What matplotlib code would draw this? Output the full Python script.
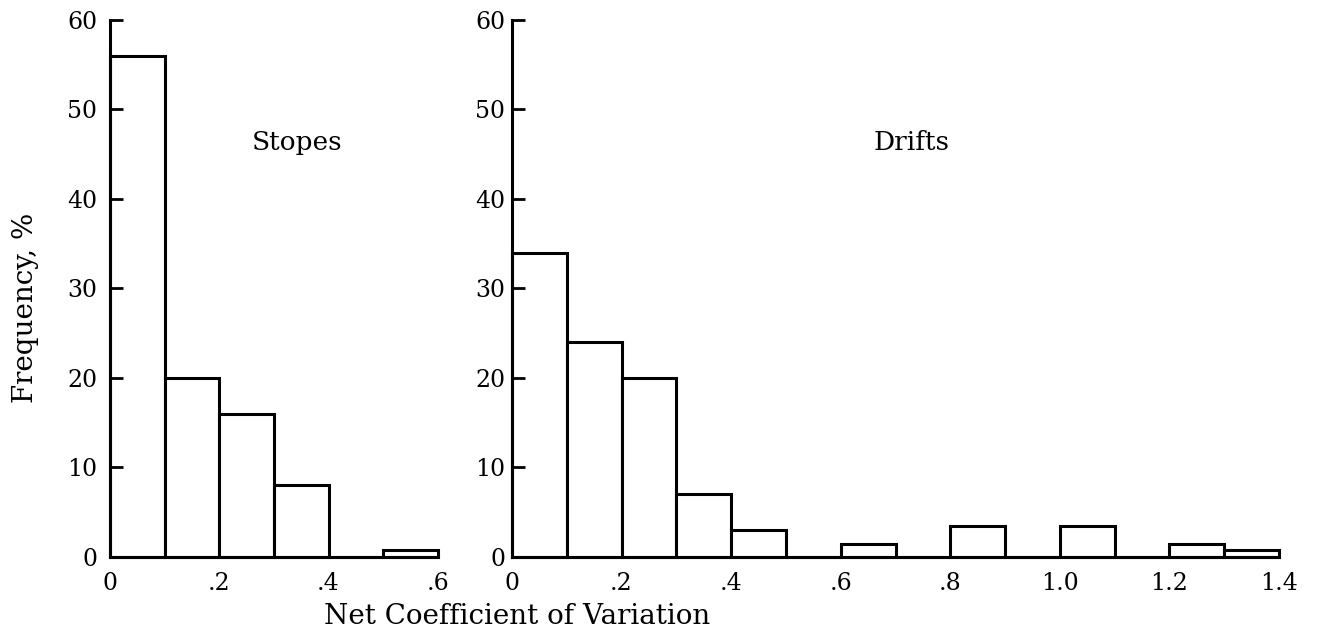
import numpy as np
import matplotlib
matplotlib.use("Agg")
import matplotlib.pyplot as plt

plt.rcParams["font.family"] = ["DejaVu Serif"]

# bin edges and frequencies (%)
stopes_edges = [0, .1, .2, .3, .4, .5, .6]
stopes_freq = [56, 20, 16, 8, 0, 0.8]
drifts_edges = [0, .1, .2, .3, .4, .5, .6, .7, .8, .9, 1.0, 1.1, 1.2, 1.3, 1.4]
drifts_freq = [34, 24, 20, 7, 3, 0, 1.5, 0, 3.5, 0, 3.5, 0, 1.5, 0.8]

y_ticks = [0, 10, 20, 30, 40, 50, 60]
stopes_xt = [0, .2, .4, .6]
stopes_xl = ["0", ".2", ".4", ".6"]
drifts_xt = [0, .2, .4, .6, .8, 1.0, 1.2, 1.4]
drifts_xl = ["0", ".2", ".4", ".6", ".8", "1.0", "1.2", "1.4"]

fig = plt.figure(figsize=(13.17, 6.32), dpi=100)
ax1 = fig.add_axes([0.0835, 0.1187, 0.249, 0.8497])
ax2 = fig.add_axes([0.3888, 0.1187, 0.5824, 0.8497])


def hist_panel(ax, edges, freq, xt, xl, xmax, label, lx, ypad):
    edges = np.array(edges)
    w = np.diff(edges)
    ax.bar(edges[:-1], freq, width=w, align="edge", facecolor="white",
           edgecolor="black", linewidth=2.2, clip_on=False)
    ax.set_xlim(0, xmax)
    ax.set_ylim(0, 60)
    for s in ["top", "right"]:
        ax.spines[s].set_visible(False)
    for s in ["left", "bottom"]:
        ax.spines[s].set_linewidth(2.2)
    ax.set_yticks(y_ticks)
    ax.set_xticks(xt)
    ax.set_xticklabels(xl)
    ax.tick_params(axis="y", direction="in", length=9, width=2, pad=ypad, labelsize=17)
    ax.tick_params(axis="x", length=0, pad=11, labelsize=17)
    ax.text(lx, 46.3, label, fontsize=19, ha="center", va="center")


hist_panel(ax1, stopes_edges, stopes_freq, stopes_xt, stopes_xl, 0.6, "Stopes", 0.342, 9)
hist_panel(ax2, drifts_edges, drifts_freq, drifts_xt, drifts_xl, 1.4, "Drifts", 0.729, 5)

fig.text(0.019, 0.513, "Frequency, %", rotation=90, fontsize=20, ha="center", va="center")
fig.text(0.393, 0.024, "Net Coefficient of Variation", fontsize=20, ha="center", va="center")

fig.savefig("out.png", dpi=100, facecolor="white")
